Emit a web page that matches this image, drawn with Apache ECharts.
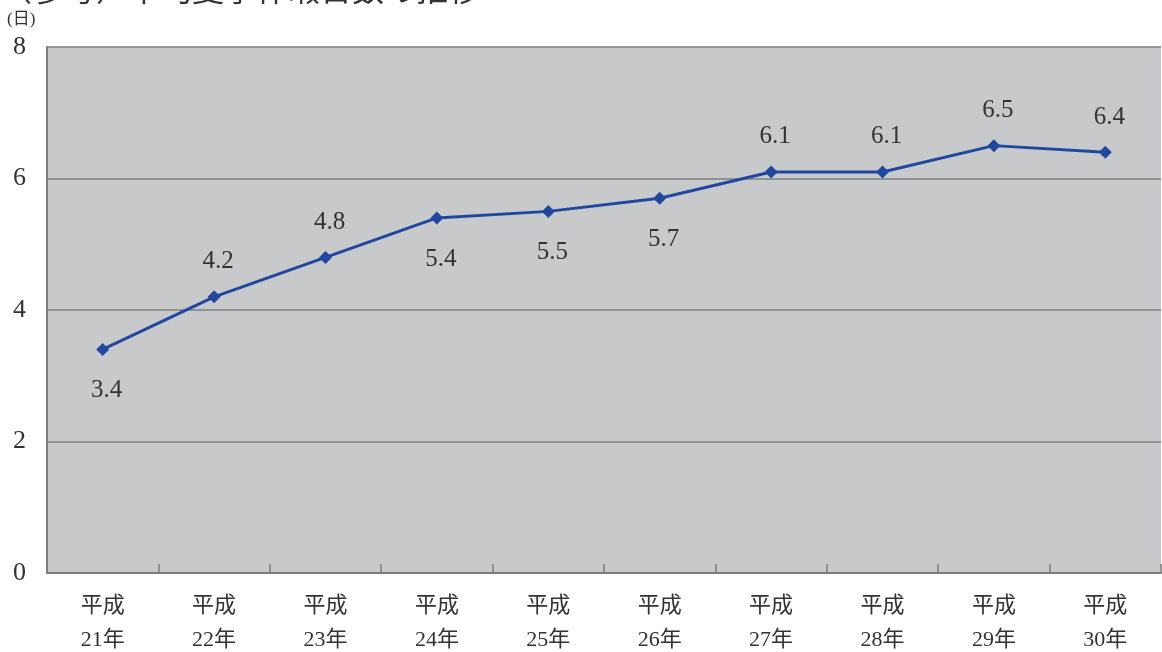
<!DOCTYPE html>
<html lang="ja">
<head>
<meta charset="utf-8">
<script src="https://cdn.jsdelivr.net/npm/echarts@6/dist/echarts.min.js"></script>
<style>
  html, body { margin: 0; padding: 0; background: #ffffff; }
  #chart { width: 1162px; height: 652px; }
</style>
</head>
<body>
<div id="chart"></div>
<script>
// 年次（平成）ごとの平均日数
const categories = ['平成\n21年', '平成\n22年', '平成\n23年', '平成\n24年', '平成\n25年',
                    '平成\n26年', '平成\n27年', '平成\n28年', '平成\n29年', '平成\n30年'];
const values = [3.4, 4.2, 4.8, 5.4, 5.5, 5.7, 6.1, 6.1, 6.5, 6.4];
const yTicks = [0, 2, 4, 6, 8];
const titleText = '（参考）平均夏季休暇日数の推移';
const unitText = '(日)';

// データラベルを線の下側に置く年
const belowIdx = [0, 3, 4, 5];

const numFont = "'Liberation Serif', 'DejaVu Serif', 'Noto Sans CJK JP', serif";
const jpFont = "'Liberation Serif', 'Noto Sans CJK JP', serif";

const chart = echarts.init(document.getElementById('chart'), null, { renderer: 'canvas' });

const seriesData = values.map((v, i) => ({
  value: v,
  label: {
    position: belowIdx.includes(i) ? 'bottom' : 'top',
    distance: belowIdx.includes(i) ? 22 : 16,
    offset: [4, 0]
  }
}));

chart.setOption({
  animation: false,
  backgroundColor: '#ffffff',
  graphic: [
    {
      type: 'text',
      left: 0,
      top: -27,
      style: { text: titleText, font: "32px 'Noto Sans CJK JP'", fill: '#333333' }
    },
    {
      type: 'text',
      left: 7,
      top: 11,
      style: { text: unitText, font: "17px " + jpFont, fill: '#333333' }
    }
  ],
  grid: {
    left: 47, right: 1, top: 47, bottom: 79,
    outerBoundsMode: 'none',
    show: true,
    backgroundColor: '#c8c9cb',
    borderWidth: 0
  },
  xAxis: {
    type: 'category',
    data: categories,
    boundaryGap: true,
    axisLine: { show: true, lineStyle: { color: '#7d7d7d', width: 2 } },
    axisTick: { show: true, inside: true, length: 9, lineStyle: { color: '#7d7d7d', width: 1.5 } },
    axisLabel: {
      color: '#333333',
      fontFamily: jpFont,
      fontSize: 22,
      lineHeight: 34,
      margin: 16
    }
  },
  yAxis: {
    type: 'value',
    min: yTicks[0],
    max: yTicks[yTicks.length - 1],
    interval: yTicks[1] - yTicks[0],
    axisLine: { show: true, lineStyle: { color: '#7d7d7d', width: 2 } },
    axisTick: { show: false },
    splitLine: { show: true, lineStyle: { color: '#7f7f7f', width: 1.6 } },
    axisLabel: {
      color: '#333333',
      fontFamily: numFont,
      fontSize: 26,
      margin: 21
    }
  },
  series: [{
    type: 'line',
    data: seriesData,
    symbol: 'diamond',
    symbolSize: 13,
    lineStyle: { color: '#2048a0', width: 3 },
    itemStyle: { color: '#2048a0' },
    label: {
      show: true,
      color: '#333333',
      fontFamily: numFont,
      fontSize: 25,
      formatter: p => p.value.toFixed(1)
    }
  }]
});
</script>
</body>
</html>
